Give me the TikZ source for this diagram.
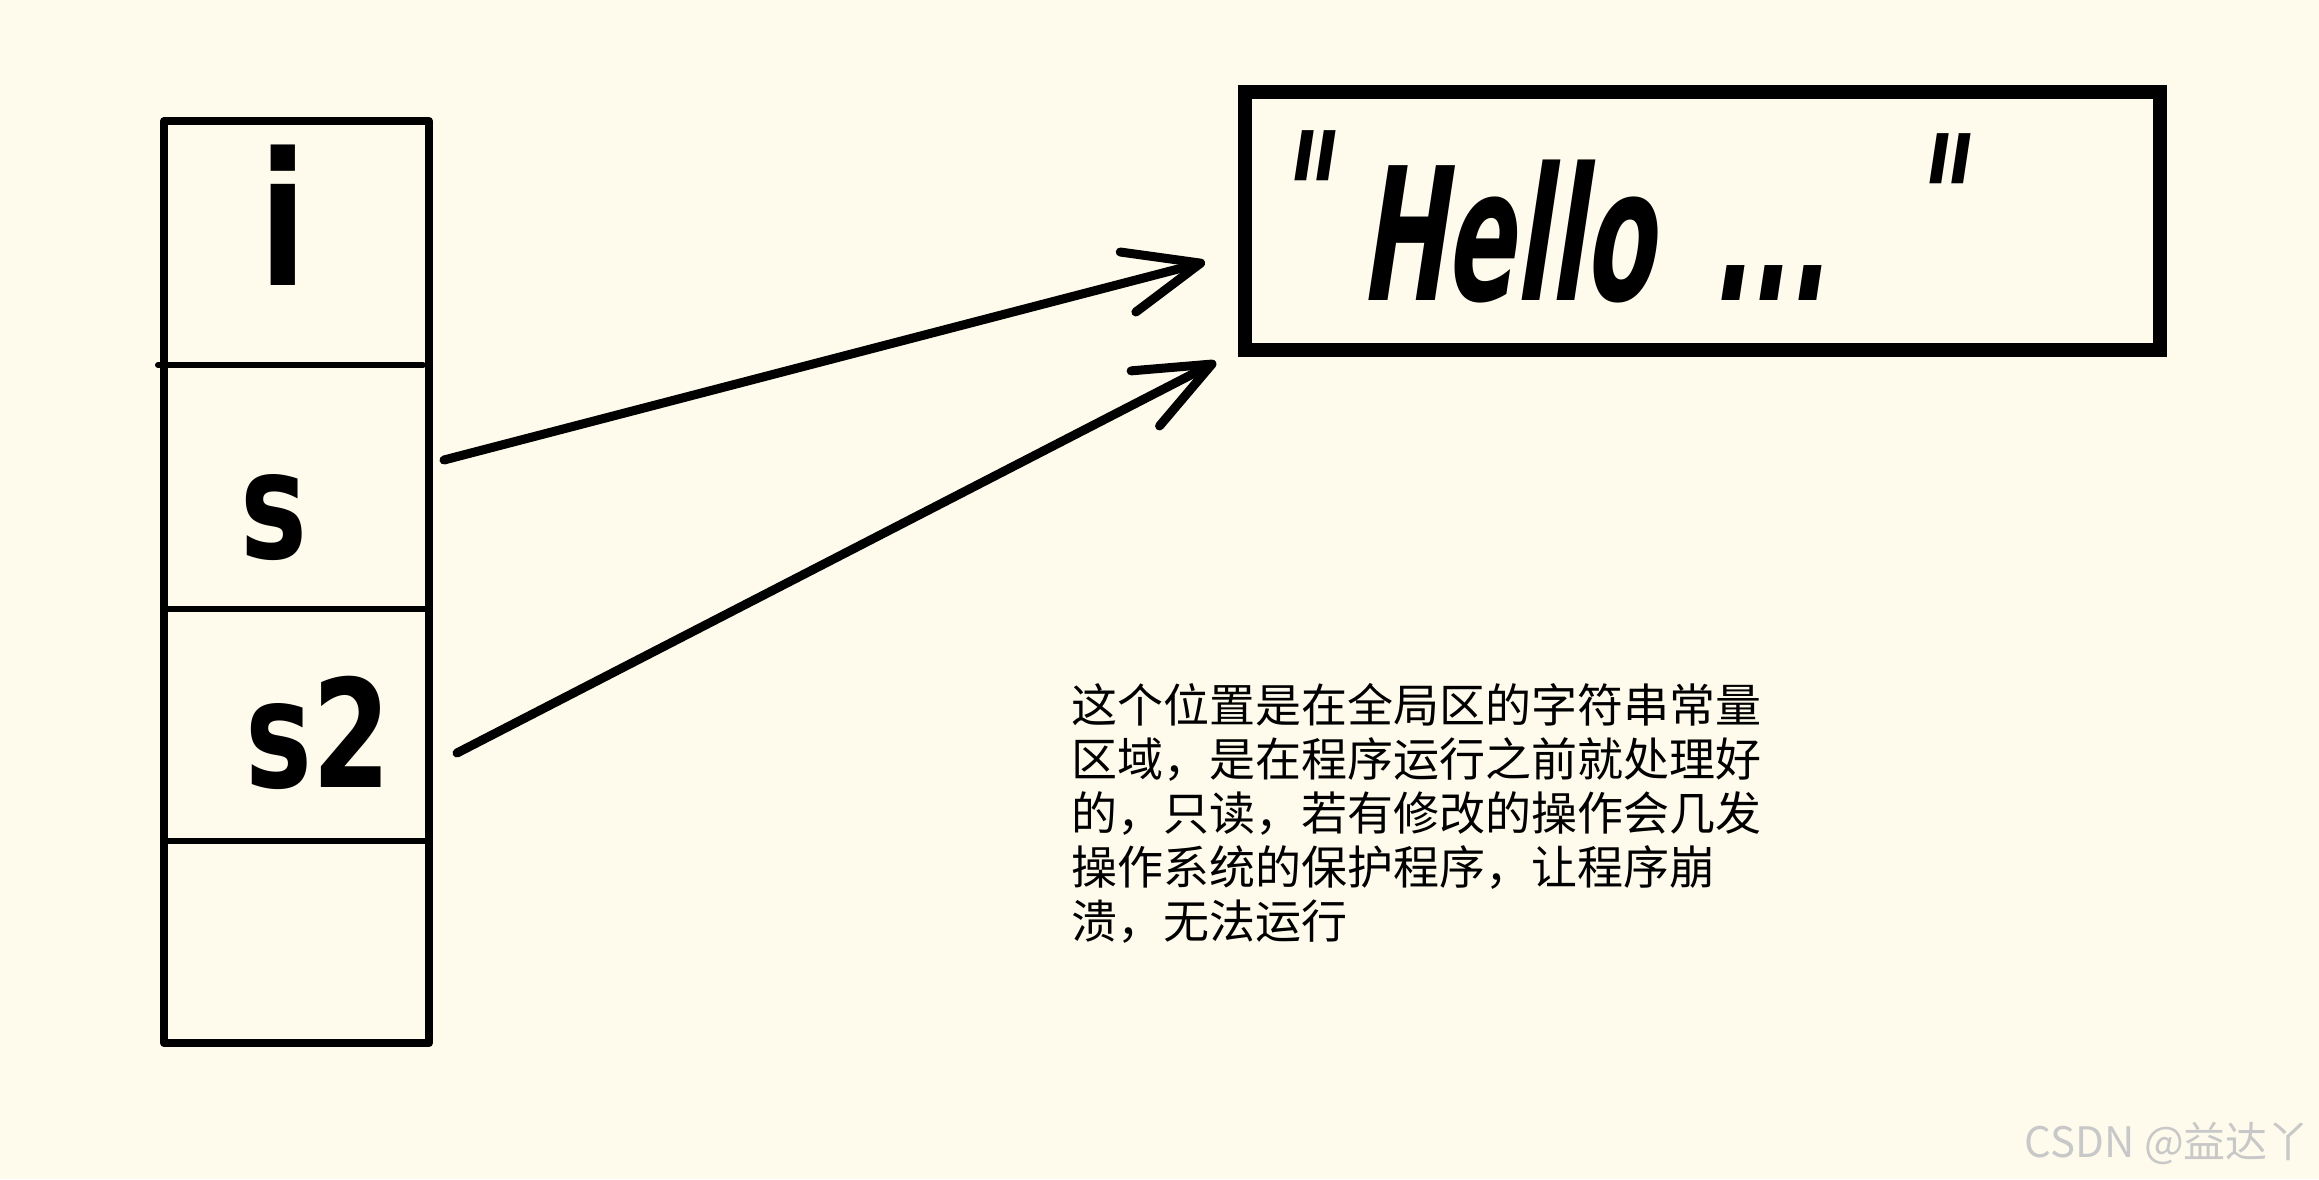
\documentclass[tikz,border=0pt]{standalone}
\usepackage{fontspec}
\usetikzlibrary{arrows.meta,calc}
\newfontfamily\cjk{Noto Sans CJK SC}
\newfontfamily\handfont[FakeStretch=0.75]{DejaVu Sans}
\newfontfamily\hellofont[FakeStretch=0.55,FakeSlant=0.15]{DejaVu Sans}
\definecolor{bg}{RGB}{254,251,237}
\definecolor{wm}{RGB}{200,200,200}
\begin{document}
\begin{tikzpicture}[x=1pt,y=-1pt,
  cell/.style={rectangle,minimum width=265pt,inner sep=0pt,outer sep=0pt},
  letter/.style={inner sep=0pt,font=\handfont\bfseries\fontsize{150}{150}\selectfont},
  ptr/.style={line width=9pt,line cap=round,-{Straight Barb[length=75pt,width=62pt,round]}},
  note/.style={font=\cjk\fontsize{46}{54}\selectfont,align=left,inner sep=0pt,anchor=north west},
]
\path[fill=bg] (0,0) rectangle (2319,1179);
% stack
\node[cell,minimum height=244pt] (ci) at (296.5,243) {};
\node[cell,minimum height=244pt] (cs) at (296.5,487) {};
\node[cell,minimum height=232pt] (cs2) at (296.5,725) {};
\node[cell,minimum height=202pt] (ce) at (296.5,942) {};
\draw[line width=8pt,line join=round] (ci.north west) rectangle (ce.south east);
\draw[line width=6pt,line cap=round] ([xshift=-6pt]ci.south west) -- ([xshift=-6pt]ci.south east);
\draw[line width=6pt] (cs.south west) -- (cs.south east);
\draw[line width=6pt] (cs2.south west) -- (cs2.south east);
% letters
\node[letter,font=\handfont\bfseries\fontsize{185}{185}\selectfont] (li) at (283,215) {i};
\node[letter] (ls) at (274,518) {s};
\node[letter] (ls2) at (318,733) {s2};
% string box
\node[draw,line width=14pt,minimum width=915pt,minimum height=258pt,outer sep=0pt,inner sep=0pt] (hello) at (1702.5,221) {};
\node[anchor=base west,inner sep=0pt,font=\hellofont\bfseries\fontsize{185}{185}\selectfont] (hellotxt) at (1272,300) {\raisebox{35pt}{"}\hspace{34pt}Hello\hspace{58pt}...\hspace{80pt}\raisebox{32pt}{"}};
% pointers
\draw[ptr] ($(cs.east)+(15,-27)$) -- ($(hello.west)+(-40,41)$);
\draw[ptr] ($(cs2.east)+(28,28)$) -- ($(hello.south west)+(-29,12)$);
% note
\node[note] (note) at (1071,683) {这个位置是在全局区的字符串常量\\区域，是在程序运行之前就处理好\\的，只读，若有修改的操作会几发\\操作系统的保护程序，让程序崩\\溃，无法运行};
% watermark
\node[anchor=base east,inner sep=0pt,text=wm,font=\cjk\fontsize{42}{42}\selectfont] (wmark) at (2310,1157) {CSDN @益达丫};
\end{tikzpicture}
\end{document}
